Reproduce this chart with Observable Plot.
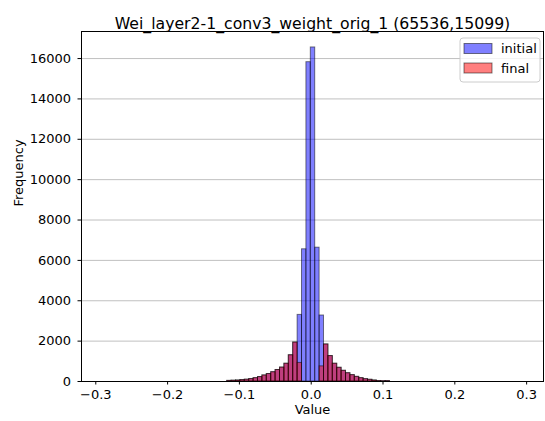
<!DOCTYPE html>
<html><head><meta charset="utf-8">
<script src="https://cdn.jsdelivr.net/npm/d3@7"></script>
<script src="https://cdn.jsdelivr.net/npm/@observablehq/plot@0.6"></script>
<style>body{margin:0;background:#fff} svg{display:block}</style>
</head><body><div id="chart"></div>
<script>
const title = "Wei_layer2-1_conv3_weight_orig_1 (65536,15099)";
const xLabel = "Value";
const yLabel = "Frequency";
const seriesNames = ["initial", "final"];
const binStart = -0.11699;   // left edge of first listed bin
const binWidth = 0.006128;
const initialCounts = [30, 40, 50, 70, 90, 120, 165, 220, 300, 370, 460, 570, 690, 880, 1300, 1930, 3300, 6550, 15820, 16550, 6630, 3270, 1835, 1260, 880, 680, 530, 410, 315, 230, 165, 115, 85, 50, 25, 15, 20];
const finalCounts   = [30, 40, 50, 70, 90, 120, 165, 220, 300, 370, 460, 570, 690, 880, 1300, 1930, 920, 0, 0, 0, 0, 750, 1835, 1260, 880, 680, 530, 410, 315, 230, 165, 115, 85, 50, 25, 15, 20];
const xTicks = [-0.3, -0.2, -0.1, 0, 0.1, 0.2, 0.3];
const yTicks = [0, 2000, 4000, 6000, 8000, 10000, 12000, 14000, 16000];
const xDomain = [-0.3199, 0.3235];
const yDomain = [0, 17340];

function toBins(counts, series) {
  return counts.map((c, i) => ({x1: binStart + i * binWidth, x2: binStart + (i + 1) * binWidth, count: c, series}))
    .filter(d => d.count > 0);
}
const initialBins = toBins(initialCounts, seriesNames[0]);
const finalBins = toBins(finalCounts, seriesNames[1]);
const fmtX = d => d.toFixed(1).replace("-", "\u2212");

const chart = Plot.plot({
  width: 545, height: 421,
  marginLeft: 81, marginRight: 2, marginTop: 31, marginBottom: 40,
  style: {fontFamily: "DejaVu Sans", fontSize: "13px", background: "white", color: "black"},
  x: {domain: xDomain},
  y: {domain: yDomain},
  marks: [
    Plot.gridY(yTicks, {stroke: "#b0b0b0", strokeOpacity: 1, strokeWidth: 0.8}),
    Plot.rect(initialBins, {x1: "x1", x2: "x2", y1: 0, y2: "count", inset: 0, fill: "blue", fillOpacity: 0.5, stroke: "black", strokeOpacity: 0.5, strokeWidth: 1}),
    Plot.rect(finalBins, {x1: "x1", x2: "x2", y1: 0, y2: "count", inset: 0, fill: "red", fillOpacity: 0.5, stroke: "black", strokeOpacity: 0.5, strokeWidth: 1}),
    Plot.frame({stroke: "black", strokeWidth: 1}),
    Plot.axisX(xTicks, {tickFormat: fmtX, tickSize: 3.5, tickPadding: 5, label: null, fontSize: 13}),
    Plot.axisY(yTicks, {tickFormat: d => String(d), tickSize: 3.5, tickPadding: 7, label: null, fontSize: 13}),
    Plot.text([title], {text: d => d, frameAnchor: "top", dy: -14, fontSize: 15.7}),
    Plot.text([xLabel], {text: d => d, frameAnchor: "bottom", dy: 32, fontSize: 13}),
    Plot.text([yLabel], {text: d => d, frameAnchor: "left", dx: -63, rotate: -90, fontSize: 13})
  ]
});
document.getElementById("chart").appendChild(chart);

// legend (upper right)
const svg = d3.select(chart);
const lg = svg.append("g").attr("font-family", "DejaVu Sans").attr("font-size", 13).attr("text-anchor", "start");
lg.append("rect").attr("x", 460).attr("y", 38).attr("width", 80).attr("height", 44).attr("rx", 3)
  .attr("fill", "white").attr("fill-opacity", 0.8).attr("stroke", "#cccccc");
const legendFills = ["blue", "red"];
seriesNames.forEach((name, i) => {
  const y = 43.5 + i * 19.5;
  lg.append("rect").attr("x", 464).attr("y", y).attr("width", 28).attr("height", 10)
    .attr("fill", legendFills[i]).attr("fill-opacity", 0.5).attr("stroke", "black").attr("stroke-opacity", 0.5);
  lg.append("text").attr("x", 501).attr("y", y + 5).attr("dy", "0.35em").attr("text-anchor", "start").text(name);
});
</script>
</body></html>
